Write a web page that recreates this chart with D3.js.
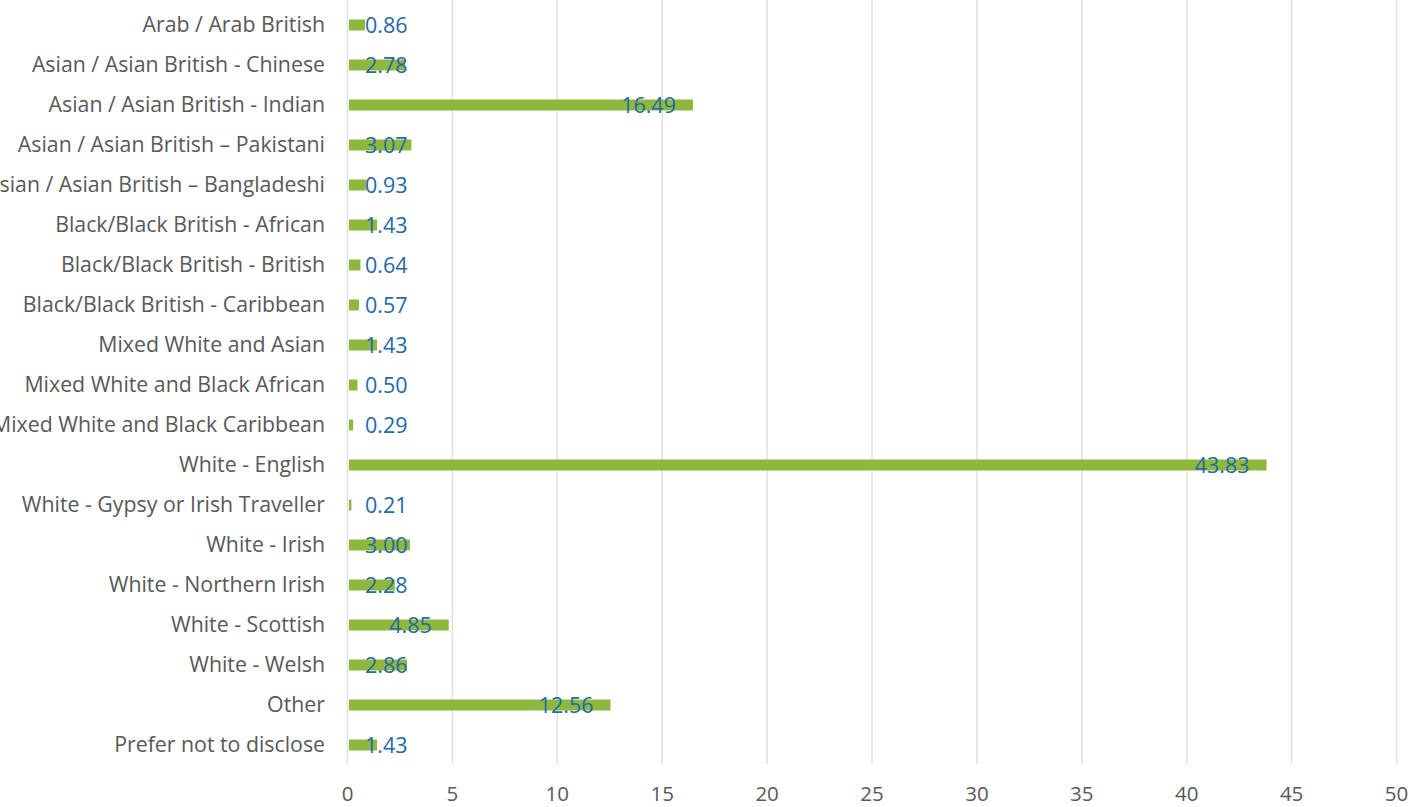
<!DOCTYPE html>
<html>
<head>
<meta charset="utf-8">
<script src="https://cdn.jsdelivr.net/npm/d3@7/dist/d3.min.js"></script>
<style>
  html, body { margin: 0; padding: 0; background: #ffffff; }
  svg { display: block; }
</style>
</head>
<body>
<svg id="chart" width="1428" height="807"></svg>
<script>
// Ethnicity breakdown (%), one bar per group
const categories = [
  "Arab / Arab British",
  "Asian / Asian British - Chinese",
  "Asian / Asian British - Indian",
  "Asian / Asian British \u2013 Pakistani",
  "Asian / Asian British \u2013 Bangladeshi",
  "Black/Black British - African",
  "Black/Black British - British",
  "Black/Black British - Caribbean",
  "Mixed White and Asian",
  "Mixed White and Black African",
  "Mixed White and Black Caribbean",
  "White - English",
  "White - Gypsy or Irish Traveller",
  "White - Irish",
  "White - Northern Irish",
  "White - Scottish",
  "White - Welsh",
  "Other",
  "Prefer not to disclose"
];
const values = [0.86, 2.78, 16.49, 3.07, 0.93, 1.43, 0.64, 0.57, 1.43, 0.50, 0.29, 43.83, 0.21, 3.00, 2.28, 4.85, 2.86, 12.56, 1.43];
const xTicks = [0, 5, 10, 15, 20, 25, 30, 35, 40, 45, 50];

const data = categories.map((c, i) => ({ cat: c, value: values[i] }));

const svg = d3.select("#chart");
const FONT = "'Open Sans', sans-serif";
const FS_CAT = 21.3;
const FS_VAL = 21.5;
const FS_TICK = 20.5;

const x = d3.scaleLinear().domain([0, 50]).range([347, 1396]);
const y = d3.scaleBand().domain(categories).range([5, 765]).paddingInner(0).paddingOuter(0);
const barH = 11;

// vertical gridlines
svg.append("g")
  .selectAll("line")
  .data(xTicks)
  .join("line")
  .attr("x1", d => x(d) + 0.5)
  .attr("x2", d => x(d) + 0.5)
  .attr("y1", 0)
  .attr("y2", 764)
  .attr("stroke", "#e0e0e0")
  .attr("stroke-width", 1.5);

// x-axis tick labels
const xAxis = d3.axisBottom(x).tickValues(xTicks).tickSize(0).tickPadding(0);
const gx = svg.append("g").attr("transform", "translate(0,786)").call(xAxis);
gx.select(".domain").remove();
gx.selectAll("text")
  .attr("font-family", FONT)
  .attr("font-size", FS_TICK)
  .attr("fill", "#595959");

// category labels
const yAxis = d3.axisLeft(y).tickSize(0).tickPadding(0);
const gy = svg.append("g").attr("transform", "translate(325,0)").call(yAxis);
gy.select(".domain").remove();
gy.selectAll("text")
  .attr("font-family", FONT)
  .attr("font-size", FS_CAT)
  .attr("fill", "#595959");

// bars
svg.append("g")
  .selectAll("rect")
  .data(data)
  .join("rect")
  .attr("x", x(0) + 2)
  .attr("y", d => y(d.cat) + y.bandwidth() / 2 - barH / 2)
  .attr("width", d => Math.max(1.5, x(d.value) - x(0) - 2))
  .attr("height", barH)
  .attr("fill", "#8db83e");

// value labels: right end inset into the bar, never starting before the minimum offset
const minStart = x(0) + 18;
const labels = svg.append("g")
  .selectAll("text")
  .data(data)
  .join("text")
  .attr("font-family", FONT)
  .attr("font-size", FS_VAL)
  .attr("fill", "#2469a8")
  .attr("dominant-baseline", "central")
  .attr("y", d => y(d.cat) + y.bandwidth() / 2 - 1)
  .text(d => d.value.toFixed(2));

labels.each(function(d) {
  const w = this.getComputedTextLength();
  const right = x(d.value) - 17;
  const start = Math.max(minStart, right - w);
  d3.select(this).attr("x", start);
});
</script>
</body>
</html>
